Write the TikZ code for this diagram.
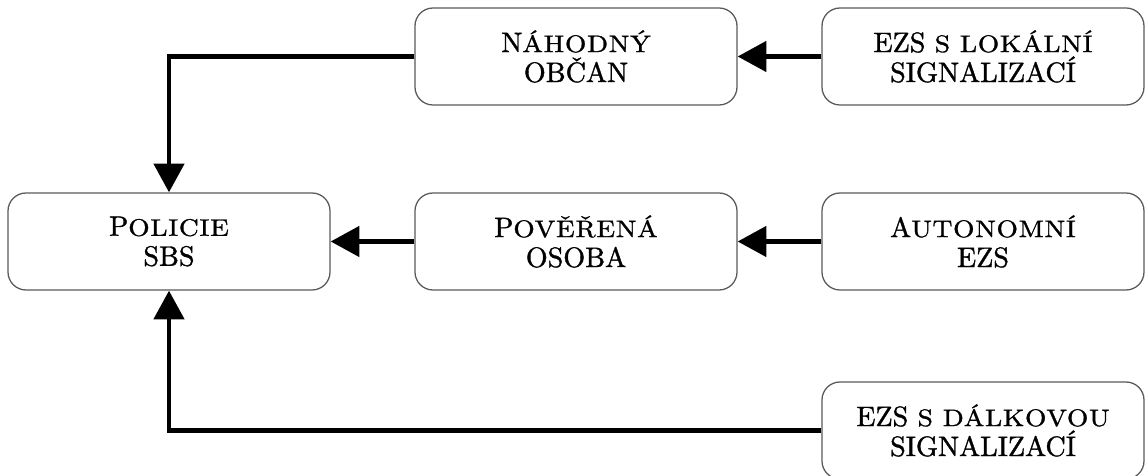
\documentclass[tikz,border=0pt]{standalone}
\usepackage{fontspec}
\newfontfamily\boxfont{lmroman10-regular.otf}[FakeBold=1.2]
\newfontfamily\lowfont{lmroman10-regular.otf}[FakeStretch=1.15,LetterSpace=3,FakeBold=1.2]
\newcommand\lowcaps[1]{{\lowfont\fontsize{17}{21.3}\selectfont #1}}
\usepackage{tikz}
\usetikzlibrary{arrows.meta}

\begin{document}
\begin{tikzpicture} [>={Triangle[length=7.2mm,width=7.5mm]},
  box/.style={draw=black!65,line width=0.9pt,rounded corners=4.5mm,minimum width=8.05cm,minimum height=2.425cm,align=center,font=\boxfont\fontsize{20}{21.3}\selectfont},
  link/.style={line width=3.5pt,->}]
\useasboundingbox (0,0) rectangle (28.625,11.9);
\node [box] (policie) at (4.225,5.8625) {P\lowcaps{OLICIE}\\SBS};
\node [box] (nahodny) at (14.4,10.4875) {N\lowcaps{ÁHODNÝ}\\OBČAN};
\node [box] (poverena) at (14.4,5.8625) {P\lowcaps{OVĚŘENÁ}\\OSOBA};
\node [box] (lokalni) at (24.575,10.4875) {EZS \lowcaps{S LOKÁLNÍ}\\SIGNALIZACÍ};
\node [box] (autonomni) at (24.575,5.8625) {A\lowcaps{UTONOMNÍ}\\EZS};
\node [box] (dalkova) at (24.575,1.1375) {EZS \lowcaps{S DÁLKOVOU}\\SIGNALIZACÍ};
\draw [link](lokalni) -- (nahodny);
\draw [link](autonomni) -- (poverena);
\draw [link](poverena) -- (policie);
\draw [link](nahodny.west) -| (policie.north);
\draw [link](dalkova.west) -| (policie.south);
\end{tikzpicture}
\end{document}
